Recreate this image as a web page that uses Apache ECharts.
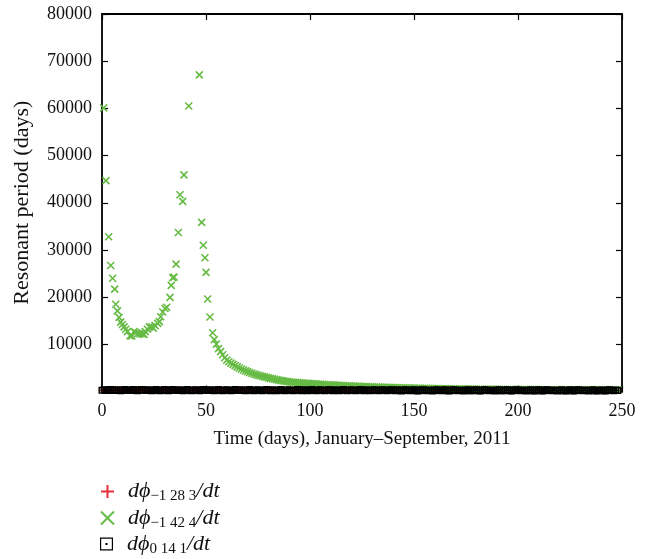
<!DOCTYPE html>
<html>
<head>
<meta charset="utf-8">
<script src="https://cdn.jsdelivr.net/npm/echarts@6/dist/echarts.min.js"></script>
<style>
  html, body { margin: 0; padding: 0; background: #fff; }
  #chart { width: 655px; height: 559px; }
</style>
</head>
<body>
<div id="chart"></div>
<script>
// Axis ticks
const xTicks = [0, 50, 100, 150, 200, 250];
const yTicks = [0, 10000, 20000, 30000, 40000, 50000, 60000, 70000, 80000];

// Subscript labels of the three resonance rates
const rateSubs = ['−1 28 3', '−1 42 4', '0 14 1'];

// dφ(−1 28 3)/dt resonant period, one value per day starting at day 0
const redValues = [
  262,248,271,255,240,266,279,251,244,259,274,246,238,263,277,250,242,268,254,239,
  265,278,249,243,258,273,245,237,262,276,252,241,267,253,238,264,277,248,242,257,
  272,244,236,261,275,251,240,266,252,237,263,276,247,241,256,271,243,235,260,274,
  250,239,265,251,236,262,275,246,240,255,270,242,234,259,273,249,238,264,250,235,
  261,274,245,239,254,269,241,233,258,272,248,237,263,249,234,260,273,244,238,253,
  268,240,232,257,271,247,236,262,248,233,259,272,243,237,252,267,239,231,256,270,
  246,235,261,247,232,258,271,242,236,251,266,238,230,255,269,245,234,260,246,231,
  257,270,241,235,250,265,237,229,254,268,244,233,259,245,230,256,269,240,234,249,
  264,236,228,253,267,243,232,258,244,229,255,268,239,233,248,263,235,227,252,266,
  242,231,257,243,228,254,267,238,232,247,262,234,226,251,265,241,230,256,242,227,
  253,266,237,231,246,261,233,225,250,264,240,229,255,241,226,252,265,236,230,245,
  260,232,224,249,263,239,228,254,240,225,251,264,235,229,244,259,231,223,248,262,
  238,227,253,239,224,250,263,234,228
];

// dφ(−1 42 4)/dt: irregularly timed points through the two peaks
const greenDays = [
  0.8, 1.9, 3.2, 4.2, 5.1, 6.1, 6.6, 7.4, 8.2, 9.0,
  9.8, 10.6, 11.4, 12.2, 13.5, 14.3, 15.4, 16.2, 17.2, 18.3,
  19.4, 20.2, 20.8, 21.8, 22.8, 23.9, 24.7, 25.5, 26.8, 27.6,
  28.2, 29.2, 30.3, 31.1, 32.7, 33.3, 34.0, 34.6, 35.6, 36.7,
  37.5, 38.8, 39.4, 41.7, 46.8, 47.9, 48.7, 49.5, 50.0, 50.8,
  51.9, 53.2
];
const greenValues = [
  60100, 44700, 32800, 26700, 24000, 21700, 18500, 17100, 15700, 14700,
  14200, 13700, 13200, 12700, 11800, 11800, 12700, 12500, 12300, 12200,
  12200, 12100, 12700, 13200, 13700, 13700, 13400, 13950, 14450, 14800,
  15850, 16850, 17600, 17850, 19950, 22500, 24100, 24250, 27000, 33700,
  41700, 40300, 45900, 60500, 67100, 35850, 31000, 28350, 25250, 19600,
  15800, 12450
];
// dφ(−1 42 4)/dt decay, one value per day from day 54
const greenTailStart = 54;
const greenTail = [
  11000,10050,9100,8450,7800,7150,6650,6300,6020,5750,
  5480,5220,4980,4760,4560,4380,4200,4030,3870,3720,
  3580,3450,3330,3220,3110,3010,2900,2790,2690,2590,
  2490,2400,2320,2250,2180,2110,2050,2010,1970,1930,
  1890,1850,1810,1780,1740,1710,1680,1650,1620,1590,
  1560,1530,1500,1470,1440,1410,1390,1370,1340,1320,
  1290,1270,1250,1220,1200,1180,1160,1140,1120,1100,
  1080,1060,1040,1020,1000,985,970,955,940,925,
  910,895,880,866,852,838,825,812,800,788,
  776,764,752,741,730,719,708,698,688,678,
  668,659,650,641,632,624,616,608,600,592,
  585,578,571,564,557,550,544,538,532,526,
  520,514,509,504,499,494,489,484,479,474,
  470,466,462,458,454,450,446,442,438,435,
  432,429,426,423,420,417,414,411,408,405,
  402,400,397,395,392,390,388,385,383,381,
  379,377,375,373,371,369,367,365,364,362,
  360,359,357,356,354,353,351,350,349,347,
  346,345,343,342,341,340,339,338,337,336,
  335,334,333,332,331
];

// dφ(0 14 1)/dt resonant period, one value per day starting at day 0
const blackValues = [
  246,362,218,335,401,199,300,385,232,174,350,426,268,187,323,398,224,161,347,412,
  301,209,373,257,152,339,414,235,176,334,409,211,160,356,421,289,198,362,246,163,
  318,423,224,175,333,397,200,149,345,420,290,187,381,255,152,327,402,213,164,322,
  386,209,148,344,419,278,186,370,244,151,336,411,202,163,321,395,208,147,343,408,
  287,175,359,233,140,325,400,211,162,310,384,197,136,332,407,266,174,368,242,139,
  314,409,210,151,319,383,196,145,331,396,275,173,357,221,138,323,398,199,150,308,
  372,195,134,330,405,264,162,356,230,137,312,397,198,149,317,381,194,133,329,384,
  263,161,345,219,126,311,386,197,148,296,370,183,132,318,393,252,160,334,218,125,
  300,375,186,137,305,369,182,131,317,392,251,159,343,217,124,299,374,185,136,294,
  358,181,120,316,391,240,148,332,206,123,298,373,184,135,293,367,180,119,305,380,
  249,147,321,205,122,287,362,173,124,292,356,169,118,304,379,238,146,330,204,121,
  286,361,172,123,281,355,168,117,293,368,237,145,319,193,110,285,360,171,122,280,
  344,167,116,292,367,226,134,318,192
];

const seriesNames = rateSubs.map(s => 'dϕ' + s + '/dt');

const redData = redValues.map((v, i) => [i, v]);
const greenData = greenDays.map((d, i) => [d, greenValues[i]])
  .concat(greenTail.map((v, i) => [greenTailStart + i, v]));
const blackData = blackValues.map((v, i) => [i, v]);

const serif = "'Liberation Serif', 'DejaVu Serif', serif";
const ink = '#111';

const plusPath = 'path://M5,0V10M0,5H10';
const crossPath = 'path://M0,0L10,10M10,0L0,10';
const boxDotPath = 'path://M0,0H10V10H0Z M2,2V8H8V2Z M4,4H6V6H4Z';
const boxDotLegend = 'path://M0,0H20V20H0Z M1.8,1.8V18.2H18.2V1.8Z M8.4,8.4H11.6V11.6H8.4Z';

const frameLine = { show: true, onZero: false, lineStyle: { color: '#000', width: 1.8 } };
const innerTick = { show: true, inside: true, length: 6, lineStyle: { color: '#000', width: 1.2 } };
const labelStyle = { fontFamily: serif, fontSize: 18, color: ink };

// One legend row per rate, stacked under the plot
const legendTops = [479, 505.5, 531.5];
const legendIcons = [undefined, undefined, boxDotLegend];
const legends = seriesNames.map((name, k) => ({
  orient: 'vertical', left: 100, top: legendTops[k], padding: 0,
  itemWidth: 13, itemHeight: 13,
  data: [legendIcons[k] ? { name: name, icon: legendIcons[k] } : { name: name }],
  formatter: n => '{i|dϕ}{s|' + n.slice(2, -3) + '}{i|/dt}',
  textStyle: {
    padding: [0, 0, 0, 9],
    lineHeight: 22,
    rich: {
      i: { fontFamily: serif, fontStyle: 'italic', fontSize: 22, color: ink, lineHeight: 22 },
      s: { fontFamily: serif, fontSize: 15, color: ink, lineHeight: 12, padding: [10, 0, 0, 0] }
    }
  }
}));

const chart = echarts.init(document.getElementById('chart'), null, { renderer: 'canvas' });

chart.setOption({
  animation: false,
  backgroundColor: '#fff',
  grid: { left: 102, top: 14, width: 520, height: 377.5, containLabel: false },
  xAxis: [
    {
      type: 'value', position: 'bottom',
      min: xTicks[0], max: xTicks[xTicks.length - 1], interval: xTicks[1] - xTicks[0],
      axisLine: frameLine, axisTick: innerTick, splitLine: { show: false },
      axisLabel: Object.assign({ margin: 11 }, labelStyle),
      name: 'Time (days), January–September, 2011',
      nameLocation: 'middle', nameGap: 38,
      nameTextStyle: { fontFamily: serif, fontSize: 19, color: ink }
    },
    {
      type: 'value', position: 'top',
      min: xTicks[0], max: xTicks[xTicks.length - 1], interval: xTicks[1] - xTicks[0],
      axisLine: frameLine, axisTick: innerTick, splitLine: { show: false },
      axisLabel: { show: false }
    }
  ],
  yAxis: [
    {
      type: 'value', position: 'left',
      min: yTicks[0], max: yTicks[yTicks.length - 1], interval: yTicks[1] - yTicks[0],
      axisLine: frameLine, axisTick: innerTick, splitLine: { show: false },
      axisLabel: Object.assign({ margin: 10, formatter: v => (v === 0 ? '' : String(v)) }, labelStyle),
      name: 'Resonant period (days)',
      nameLocation: 'middle', nameGap: 69, nameRotate: 90,
      nameTextStyle: { fontFamily: serif, fontSize: 22, color: ink }
    },
    {
      type: 'value', position: 'right',
      min: yTicks[0], max: yTicks[yTicks.length - 1], interval: yTicks[1] - yTicks[0],
      axisLine: frameLine, axisTick: innerTick, splitLine: { show: false },
      axisLabel: { show: false }
    }
  ],
  legend: legends,
  series: [
    {
      name: seriesNames[0], type: 'scatter', xAxisIndex: 0, yAxisIndex: 0,
      symbol: plusPath, symbolSize: 7,
      itemStyle: { color: 'rgba(0,0,0,0)', borderColor: '#e8303a', borderWidth: 1.1, opacity: 1 },
      data: redData
    },
    {
      name: seriesNames[1], type: 'scatter', xAxisIndex: 0, yAxisIndex: 0,
      symbol: crossPath, symbolSize: 7,
      itemStyle: { color: 'rgba(0,0,0,0)', borderColor: '#66bb44', borderWidth: 1.6, opacity: 1 },
      data: greenData
    },
    {
      name: seriesNames[2], type: 'scatter', xAxisIndex: 0, yAxisIndex: 0,
      symbol: boxDotPath, symbolSize: 7,
      itemStyle: { color: '#000', opacity: 1 },
      data: blackData
    }
  ]
});
</script>
</body>
</html>
